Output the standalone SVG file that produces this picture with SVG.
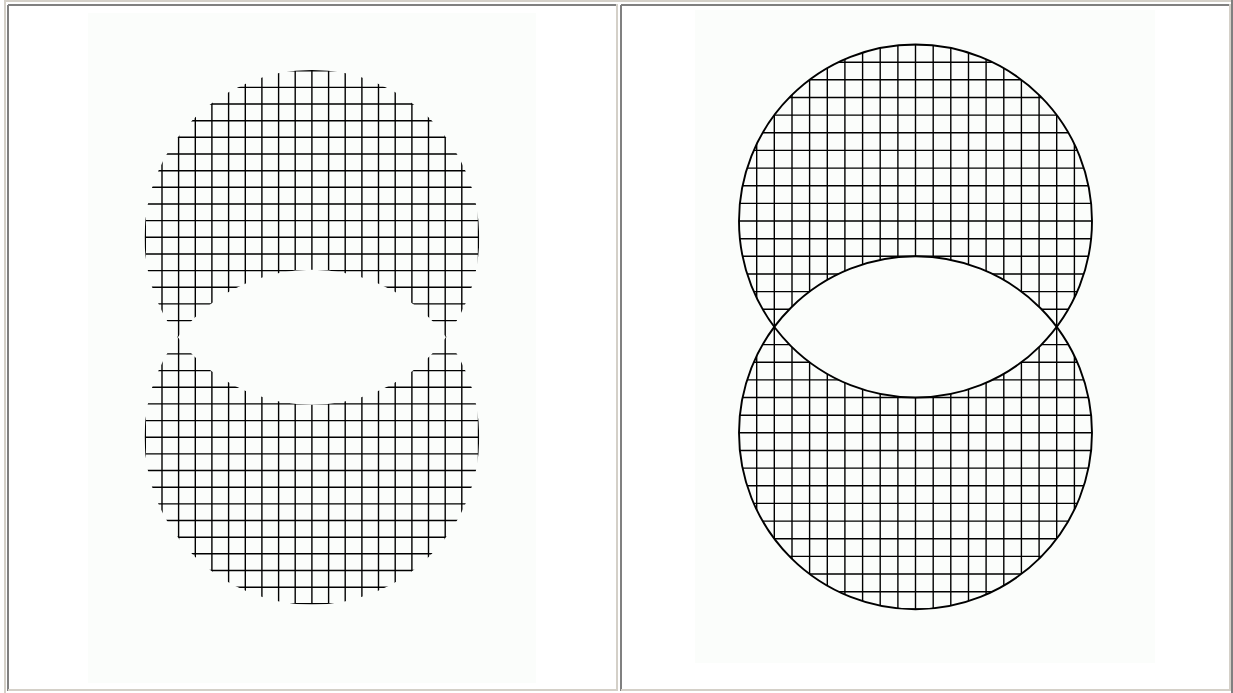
<svg xmlns="http://www.w3.org/2000/svg" width="1233" height="693" viewBox="0 0 1233 693">
<style>
.lt{stroke:#d4d0c8;stroke-width:2;fill:none}
.dk{stroke:#808080;stroke-width:2;fill:none}
.img{fill:#fbfdfb}
.grid{stroke:#000;stroke-width:1.4;fill:none}
.ring{stroke:#000;stroke-width:1.9;fill:none}
</style>
<defs>
<clipPath id="clipL"><path clip-rule="evenodd" d="M144.5 237.3a167.4 167.4 0 1 0 334.8 0a167.4 167.4 0 1 0 -334.8 0ZM144.5 437.2a167.4 167.4 0 1 0 334.8 0a167.4 167.4 0 1 0 -334.8 0Z"/></clipPath>
<clipPath id="clipR"><path clip-rule="evenodd" d="M739 221a176.5 176.5 0 1 0 353 0a176.5 176.5 0 1 0 -353 0ZM739 432.8a176.5 176.5 0 1 0 353 0a176.5 176.5 0 1 0 -353 0Z"/></clipPath>
</defs>
<rect width="1233" height="693" fill="#fff"/>
<g id="frame">
<path class="lt" d="M4 1H1233M5 0V693"/>
<path class="dk" d="M1232 0V693"/>
<path class="dk" d="M8 5H617M8 5V691"/>
<path class="lt" d="M617 4V691M8 690H618"/>
<path class="dk" d="M621 5H1230M621 5V691"/>
<path class="lt" d="M1230 4V691M621 690H1231"/>
</g>
<g id="left-panel">
<rect class="img" x="88" y="13" width="448" height="670"/>
<g clip-path="url(#clipL)">
<path class="grid" d="M145.3 70.7V603.8M162 70.7V603.8M178.6 70.7V603.8M195.3 70.7V603.8M211.9 70.7V603.8M228.6 70.7V603.8M245.3 70.7V603.8M261.9 70.7V603.8M278.6 70.7V603.8M295.2 70.7V603.8M311.9 70.7V603.8M328.6 70.7V603.8M345.2 70.7V603.8M361.9 70.7V603.8M378.5 70.7V603.8M395.2 70.7V603.8M411.9 70.7V603.8M428.5 70.7V603.8M445.2 70.7V603.8M461.8 70.7V603.8M478.5 70.7V603.8
M145.3 70.7H478.5M145.3 87.4H478.5M145.3 104H478.5M145.3 120.7H478.5M145.3 137.3H478.5M145.3 154H478.5M145.3 170.7H478.5M145.3 187.3H478.5M145.3 204H478.5M145.3 220.6H478.5M145.3 237.3H478.5M145.3 254H478.5M145.3 270.6H478.5M145.3 287.3H478.5M145.3 303.9H478.5M145.3 320.6H478.5M145.3 337.3H478.5M145.3 353.9H478.5M145.3 370.6H478.5M145.3 387.2H478.5M145.3 403.9H478.5M145.3 420.6H478.5M145.3 437.2H478.5M145.3 453.9H478.5M145.3 470.5H478.5M145.3 487.2H478.5M145.3 503.9H478.5M145.3 520.5H478.5M145.3 537.2H478.5M145.3 553.8H478.5M145.3 570.5H478.5M145.3 587.2H478.5M145.3 603.8H478.5"/>
</g>
</g>
<g id="right-panel">
<rect class="img" x="695" y="10" width="460" height="653"/>
<g clip-path="url(#clipR)">
<path class="grid" d="M739 44.5V609.3M756.7 44.5V609.3M774.3 44.5V609.3M792 44.5V609.3M809.6 44.5V609.3M827.3 44.5V609.3M844.9 44.5V609.3M862.6 44.5V609.3M880.2 44.5V609.3M897.9 44.5V609.3M915.5 44.5V609.3M933.2 44.5V609.3M950.8 44.5V609.3M968.5 44.5V609.3M986.1 44.5V609.3M1003.8 44.5V609.3M1021.4 44.5V609.3M1039.1 44.5V609.3M1056.7 44.5V609.3M1074.4 44.5V609.3M1092 44.5V609.3
M739 44.5H1092M739 62.2H1092M739 79.8H1092M739 97.5H1092M739 115.1H1092M739 132.8H1092M739 150.4H1092M739 168.1H1092M739 185.7H1092M739 203.4H1092M739 221H1092M739 238.7H1092M739 256.3H1092M739 274H1092M739 291.6H1092M739 309.3H1092M739 326.9H1092M739 344.6H1092M739 362.2H1092M739 379.9H1092M739 397.5H1092M739 415.2H1092M739 432.8H1092M739 450.5H1092M739 468.1H1092M739 485.8H1092M739 503.4H1092M739 521.1H1092M739 538.7H1092M739 556.4H1092M739 574H1092M739 591.7H1092M739 609.3H1092"/>
</g>
<g id="circles">
<circle class="ring" cx="915.5" cy="221" r="176.5"/>
<circle class="ring" cx="915.5" cy="432.8" r="176.5"/>
</g>
</g>
</svg>
